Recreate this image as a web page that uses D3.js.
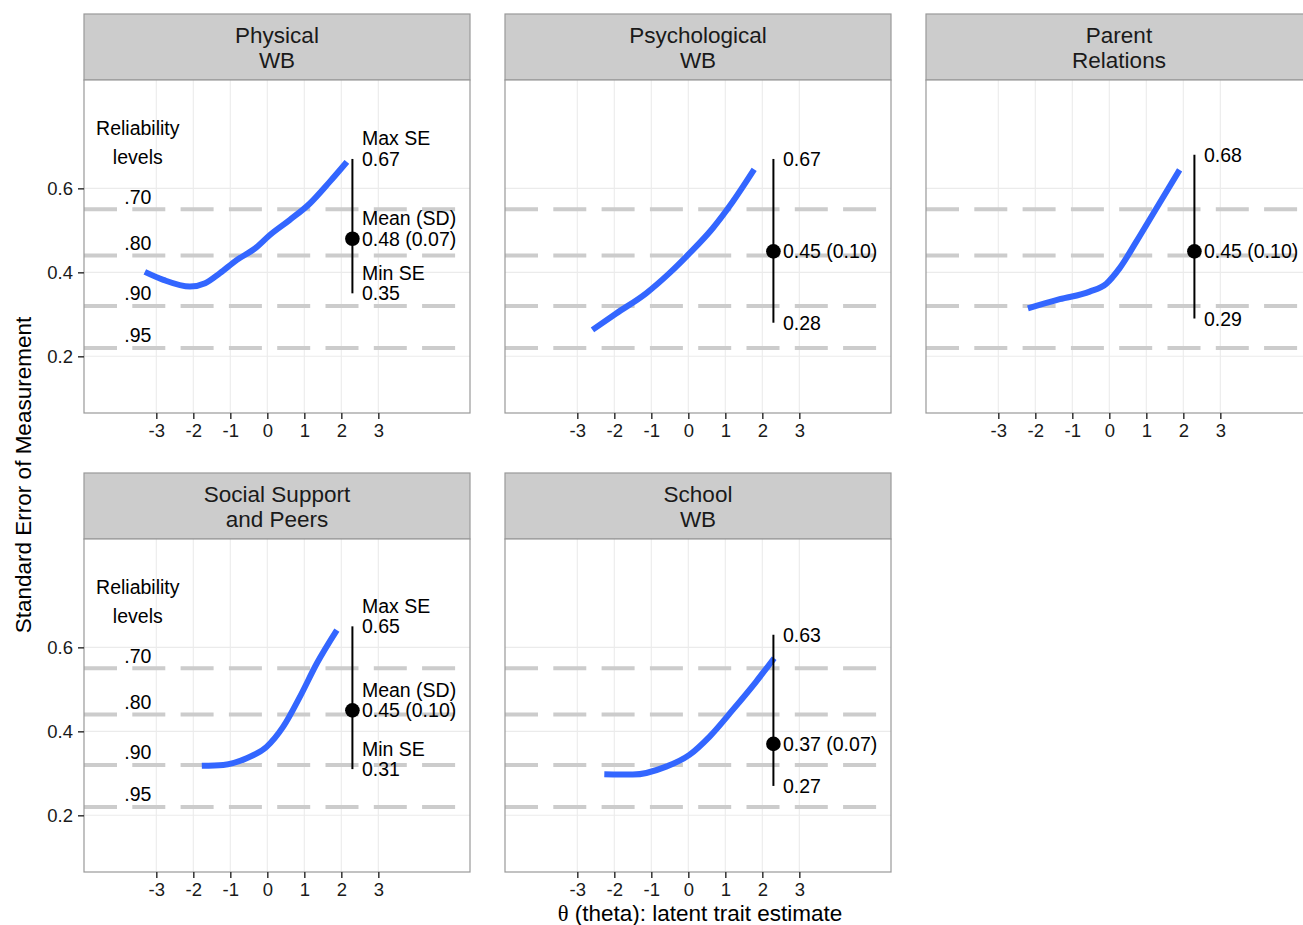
<!DOCTYPE html>
<html>
<head>
<meta charset="utf-8">
<script src="https://cdn.jsdelivr.net/npm/d3@7"></script>
<style>
  html, body { margin: 0; padding: 0; background: #ffffff; }
  svg { display: block; font-family: "Liberation Sans", Arial, Helvetica, sans-serif; }
</style>
</head>
<body>
<svg id="chart" width="1303" height="925"></svg>
<script>
// ---------------- DATA ----------------
const facetTitles = [
  ["Physical", "WB"],
  ["Psychological", "WB"],
  ["Parent", "Relations"],
  ["Social Support", "and Peers"],
  ["School", "WB"]
];
// SE curves: [theta, SE]
const curvePhysical = [[-3.31,0.401],[-2.81,0.382],[-2.09,0.366],[-1.68,0.374],[-1.28,0.398],[-0.83,0.429],[-0.33,0.457],[0.07,0.489],[0.61,0.525],[1.15,0.564],[1.69,0.616],[2.15,0.663]];
const curvePsychological = [[-2.59,0.263],[-1.95,0.302],[-1.14,0.350],[-0.51,0.398],[0.03,0.445],[0.66,0.505],[1.20,0.568],[1.78,0.645]];
const curveParent = [[-2.20,0.314],[-1.34,0.336],[-0.53,0.354],[-0.08,0.373],[0.28,0.410],[0.73,0.473],[1.27,0.552],[1.90,0.644]];
const curveSocial = [[-1.77,0.318],[-1.19,0.320],[-0.56,0.336],[-0.02,0.363],[0.43,0.411],[0.88,0.482],[1.34,0.562],[1.88,0.641]];
const curveSchool = [[-2.27,0.298],[-1.50,0.297],[-0.60,0.316],[0.03,0.344],[0.57,0.387],[1.20,0.451],[1.83,0.518],[2.32,0.574]];
const curves = [curvePhysical, curvePsychological, curveParent, curveSocial, curveSchool];

const maxSE  = [0.67, 0.67, 0.68, 0.65, 0.63];
const meanSE = [0.48, 0.45, 0.45, 0.45, 0.37];
const sdSE   = [0.07, 0.10, 0.10, 0.10, 0.07];
const minSE  = [0.35, 0.28, 0.29, 0.31, 0.27];
const showSummaryTitles = [true, false, false, true, false];
const showReliabilityLabels = [true, false, false, true, false];
const summaryTheta = 2.3;

const reliabilityLevels = [".70", ".80", ".90", ".95"];
const reliabilitySE = [0.55, 0.44, 0.32, 0.22];
const reliabilityLabelTheta = -3.5;

const xTicks = [-3, -2, -1, 0, 1, 2, 3];
const yTicks = [0.2, 0.4, 0.6];
const xDomain = [-4.954, 5.478];
const yDomain = [0.065, 0.858];

const xTitleSymbol = "\u03b8";
const xTitleRest = " (theta): latent trait estimate";
const yTitle = "Standard Error of Measurement";

// ---------------- LAYOUT ----------------
const svg = d3.select("#chart");
const panelW = 386, panelH = 333, stripH = 66;
const colX = [84, 505, 926];
const rowTop = [14, 473];

const FS_TICK = 18.5, FS_ANN = 19.5, FS_STRIP = 22.5, FS_TITLE = 22.5;

const xScale = d3.scaleLinear().domain(xDomain).range([0, panelW]);
const yScale = d3.scaleLinear().domain(yDomain).range([panelH, 0]);

facetTitles.forEach((title, i) => {
  const col = i % 3, row = Math.floor(i / 3);
  const left = colX[col];
  const stripTop = rowTop[row];
  const top = stripTop + stripH;

  // strip
  const strip = svg.append("g").attr("transform", `translate(${left},${stripTop})`);
  strip.append("rect").attr("x", 0).attr("y", 0).attr("width", panelW).attr("height", stripH)
    .attr("fill", "#cccccc").attr("stroke", "#999999").attr("stroke-width", 1.2);
  strip.append("text").attr("x", panelW / 2).attr("y", 29.3).attr("text-anchor", "middle")
    .attr("font-size", FS_STRIP).attr("fill", "#1a1a1a").text(title[0]);
  strip.append("text").attr("x", panelW / 2).attr("y", 54.3).attr("text-anchor", "middle")
    .attr("font-size", FS_STRIP).attr("fill", "#1a1a1a").text(title[1]);

  const g = svg.append("g").attr("transform", `translate(${left},${top})`);
  g.append("rect").attr("width", panelW).attr("height", panelH).attr("fill", "#ffffff");

  // grid
  g.selectAll(".vgrid").data(xTicks).enter().append("line")
    .attr("x1", d => xScale(d)).attr("x2", d => xScale(d)).attr("y1", 0).attr("y2", panelH)
    .attr("stroke", "#ebebeb").attr("stroke-width", 1.1);
  g.selectAll(".hgrid").data(yTicks).enter().append("line")
    .attr("x1", 0).attr("x2", panelW).attr("y1", d => yScale(d)).attr("y2", d => yScale(d))
    .attr("stroke", "#ebebeb").attr("stroke-width", 1.1);

  // reliability dashed lines
  g.selectAll(".rel").data(reliabilitySE).enter().append("line")
    .attr("x1", 0).attr("x2", panelW).attr("y1", d => yScale(d)).attr("y2", d => yScale(d))
    .attr("stroke", "#cccccc").attr("stroke-width", 4).attr("stroke-dasharray", "33,15.3");

  if (showReliabilityLabels[i]) {
    g.selectAll(".rellab").data(reliabilityLevels).enter().append("text")
      .attr("x", xScale(reliabilityLabelTheta)).attr("y", (d, k) => yScale(reliabilitySE[k] + 0.03))
      .attr("dy", "0.35em").attr("text-anchor", "middle").attr("font-size", FS_ANN).attr("fill", "#000")
      .text(d => d);
    const ry = yScale(0.70);
    g.append("text").attr("x", xScale(reliabilityLabelTheta)).attr("y", ry - 11.5)
      .attr("text-anchor", "middle").attr("font-size", FS_ANN).attr("fill", "#000").text("Reliability");
    g.append("text").attr("x", xScale(reliabilityLabelTheta)).attr("y", ry + 17.5)
      .attr("text-anchor", "middle").attr("font-size", FS_ANN).attr("fill", "#000").text("levels");
  }

  // SE curve
  const line = d3.line().x(d => xScale(d[0])).y(d => yScale(d[1])).curve(d3.curveMonotoneX);
  g.append("path").datum(curves[i]).attr("d", line).attr("fill", "none")
    .attr("stroke", "#3366ff").attr("stroke-width", 6).attr("stroke-linecap", "butt")
    .attr("stroke-linejoin", "round");

  // summary range
  const sx = xScale(summaryTheta);
  g.append("line").attr("x1", sx).attr("x2", sx).attr("y1", yScale(maxSE[i])).attr("y2", yScale(minSE[i]))
    .attr("stroke", "#000").attr("stroke-width", 2);
  g.append("circle").attr("cx", sx).attr("cy", yScale(meanSE[i])).attr("r", 7.3).attr("fill", "#000");

  const tx = sx + 9.5;
  const fmt = d3.format(".2f");
  const labels = [
    { title: "Max SE", val: fmt(maxSE[i]), y: maxSE[i] },
    { title: "Mean (SD)", val: `${fmt(meanSE[i])} (${fmt(sdSE[i])})`, y: meanSE[i] },
    { title: "Min SE", val: fmt(minSE[i]), y: minSE[i] }
  ];
  labels.forEach(l => {
    g.append("text").attr("x", tx).attr("y", yScale(l.y)).attr("dy", "0.36em")
      .attr("font-size", FS_ANN).attr("fill", "#000").text(l.val);
    if (showSummaryTitles[i]) {
      g.append("text").attr("x", tx).attr("y", yScale(l.y) - 20.5).attr("dy", "0.36em")
        .attr("font-size", FS_ANN).attr("fill", "#000").text(l.title);
    }
  });

  // panel border
  g.append("rect").attr("width", panelW).attr("height", panelH).attr("fill", "none")
    .attr("stroke", "#999999").attr("stroke-width", 1.2);

  // x axis
  const xAxis = d3.axisBottom(xScale).tickValues(xTicks).tickSize(6).tickPadding(5).tickFormat(d3.format("d"));
  const xa = g.append("g").attr("transform", `translate(0,${panelH})`).call(xAxis);
  xa.select(".domain").remove();
  xa.selectAll(".tick line").attr("stroke", "#333").attr("stroke-width", 1.5);
  xa.selectAll(".tick text").attr("font-size", FS_TICK).attr("fill", "#1a1a1a")
    .attr("font-family", "Liberation Sans, Arial, sans-serif")
    .text(d => d < 0 ? "-" + Math.abs(d) : String(d));

  // y axis on left column
  if (col === 0) {
    const yAxis = d3.axisLeft(yScale).tickValues(yTicks).tickSize(6).tickPadding(5).tickFormat(d3.format(".1f"));
    const ya = g.append("g").call(yAxis);
    ya.select(".domain").remove();
    ya.selectAll(".tick line").attr("stroke", "#333").attr("stroke-width", 1.5);
    ya.selectAll(".tick text").attr("font-size", FS_TICK).attr("fill", "#1a1a1a")
      .attr("font-family", "Liberation Sans, Arial, sans-serif");
  }
});

// axis titles
const xt = svg.append("text").attr("x", 700).attr("y", 921).attr("text-anchor", "middle")
  .attr("font-size", FS_TITLE).attr("fill", "#000");
xt.append("tspan").attr("font-family", "Liberation Serif, Times New Roman, serif").text(xTitleSymbol);
xt.append("tspan").text(xTitleRest);
svg.append("text").attr("transform", "translate(30.5,475) rotate(-90)").attr("text-anchor", "middle")
  .attr("font-size", FS_TITLE).attr("fill", "#000").text(yTitle);
</script>
</body>
</html>
